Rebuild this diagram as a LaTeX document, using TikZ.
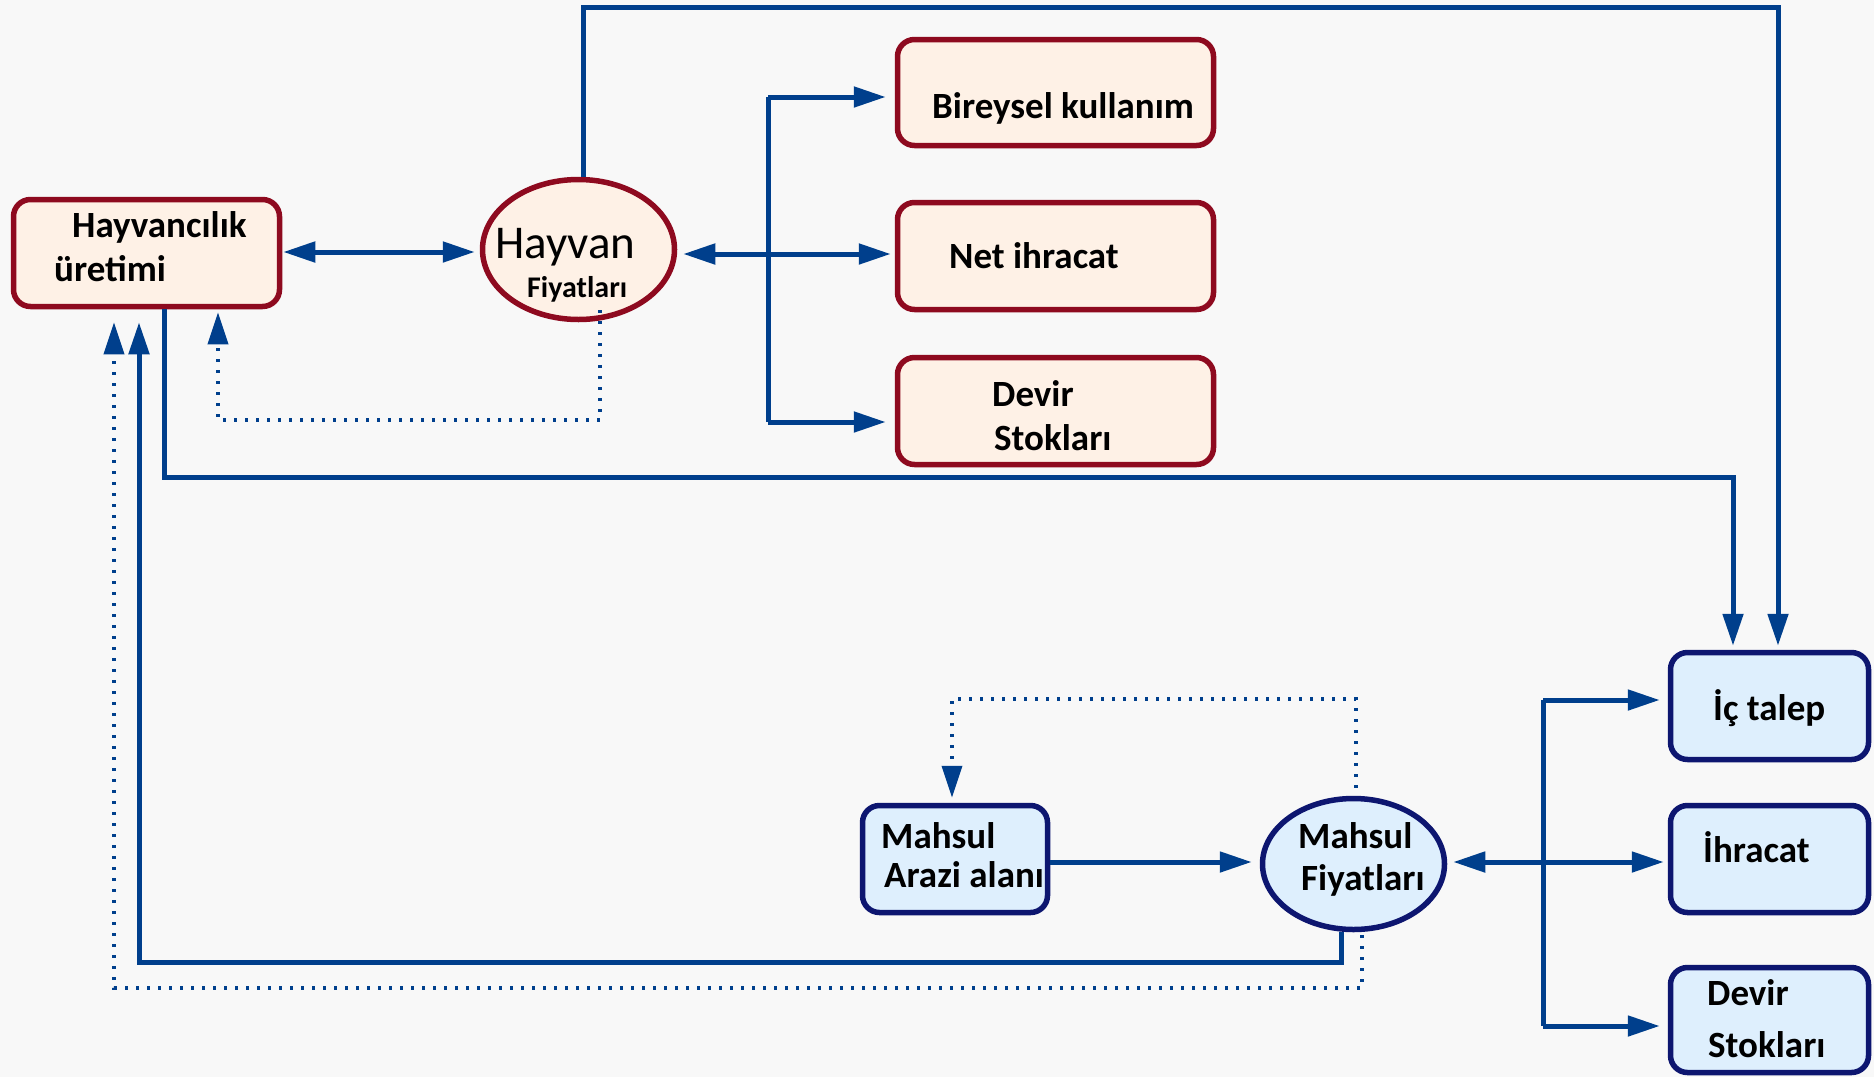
\documentclass[tikz,border=0pt]{standalone}
\usepackage{fontspec}
\setmainfont{Carlito}
\usetikzlibrary{arrows.meta,shapes.geometric,calc}
\definecolor{bg}{HTML}{F8F8F8}
\definecolor{arrblue}{HTML}{003F8C}
\definecolor{redb}{HTML}{8E0A1F}
\definecolor{peach}{HTML}{FEF1E6}
\definecolor{lblue}{HTML}{DEEFFD}
\definecolor{navy}{HTML}{0D1670}
\tikzset{
  redbox/.style={draw=redb,fill=peach,line width=5.5pt,rounded corners=17pt,rectangle,inner sep=0pt},
  redell/.style={draw=redb,fill=peach,line width=5.5pt,ellipse,inner sep=0pt},
  bluebox/.style={draw=navy,fill=lblue,line width=5.5pt,rounded corners=17pt,rectangle,inner sep=0pt},
  blueell/.style={draw=navy,fill=lblue,line width=5.5pt,ellipse,inner sep=0pt},
  tip/.tip={Triangle[length=32pt,width=20pt]},
  arr/.style={draw=arrblue,line width=5pt,-tip},
  arrb/.style={draw=arrblue,line width=5pt,tip-tip},
  plain/.style={draw=arrblue,line width=5pt},
  dotarr/.style={draw=arrblue,line width=3.6pt,dash pattern=on 3pt off 8pt,-tip},
  lbl/.style={font=\fontsize{37}{40}\selectfont\bfseries,anchor=base west,inner sep=0pt},
}
\begin{document}
\begin{tikzpicture}[x=1pt,y=-1pt]
\useasboundingbox (0,0) rectangle (1874,1077);
\fill[bg] (0,0) rectangle (1874,1077);

% nodes
\node[redbox,minimum width=266pt,minimum height=107pt] (hp) at (146.5,253) {};
\node[redell,minimum width=192pt,minimum height=140pt] (hf) at (578.5,249.5) {};
\node[redbox,minimum width=316pt,minimum height=106pt] (bk) at (1055.5,92.5) {};
\node[redbox,minimum width=316pt,minimum height=107pt] (ni) at (1055.5,256) {};
\node[redbox,minimum width=316pt,minimum height=107pt] (ds) at (1055.5,411) {};
\node[bluebox,minimum width=185pt,minimum height=107pt] (ma) at (955,859) {};
\node[blueell,minimum width=182pt,minimum height=131pt] (mf) at (1353.5,864) {};
\node[bluebox,minimum width=198pt,minimum height=107pt] (it) at (1769.5,706) {};
\node[bluebox,minimum width=198pt,minimum height=107pt] (ih) at (1769.5,859) {};
\node[bluebox,minimum width=198pt,minimum height=105pt] (dsb) at (1769.5,1020) {};

% labels
\node[lbl] (t1) at (72,237) {Hayvancılık};
\node[lbl] (t2) at (54,281) {üretimi};
\node[lbl,font=\fontsize{47}{50}\selectfont] (t3) at (495,258) {Hayvan};
\node[lbl,font=\fontsize{30}{34}\selectfont\bfseries] (t4) at (527,297) {Fiyatları};
\node[lbl] (t5) at (932,118) {Bireysel kullanım};
\node[lbl] (t6) at (949,268) {Net ihracat};
\node[lbl] (t7) at (992,406) {Devir};
\node[lbl] (t8) at (994,450) {Stokları};
\node[lbl] (t9) at (881,848) {Mahsul};
\node[lbl] (t10) at (884,887) {Arazi alanı};
\node[lbl] (t11) at (1298,848) {Mahsul};
\node[lbl] (t12) at (1301,890) {Fiyatları};
\node[lbl] (t13) at (1713,720) {İç talep};
\node[lbl] (t14) at (1703,862) {İhracat};
\node[lbl] (t15) at (1707,1005) {Devir};
\node[lbl] (t16) at (1708,1057) {Stokları};

% bend coordinates
\coordinate (ctop) at (1778,7);
\coordinate (cmid) at (1733,477);
\coordinate (cd1) at (218,420);
\coordinate (cs1) at (139,962);
\coordinate (cd2) at (114,988);
\coordinate (cd3) at (952,699);
\coordinate (hy) at (768,254);
\coordinate (ht) at (768,97);
\coordinate (hb) at (768,422);
\coordinate (my) at (1543,862);
\coordinate (mt) at (1543,700);
\coordinate (mb) at (1543,1026);

% connectors top
\draw[arrb,shorten <=1pt,shorten >=5pt] (hp.east |- 0,252) -- (hf.west |- 0,252);
\draw[arr,shorten >=4pt] ([xshift=4.5pt]hf.north) |- (ctop) -| ([xshift=8.5pt]it.north);
\draw[arr,shorten >=4pt] ([xshift=17.5pt]hp.south) |- (cmid) -| ([xshift=-36.5pt]it.north);
\draw[dotarr,shorten >=3pt] ([shift={(21.5pt,12pt)}]hf.south) |- (cd1) -| ([xshift=71.5pt]hp.south);
\draw[arrb,shorten <=6pt,shorten >=4pt] (hy -| hf.east) -- (hy -| ni.west);
\draw[plain] (ht) -- (hb);
\draw[arr,shorten >=9pt] (ht) -- (ht -| bk.west);
\draw[arr,shorten >=9pt] (hb) -- (hb -| ds.west);

% connectors bottom
\draw[arr,shorten >=13pt] ([xshift=-12.5pt]mf.south) |- (cs1) -| ([xshift=-7.5pt]hp.south);
\draw[dotarr,shorten <=3pt,shorten >=13pt] ([xshift=8.5pt]mf.south) |- (cd2) -| ([xshift=-32.5pt]hp.south);
\draw[arr,shorten >=8pt] (ma.east |- my) -- (mf.west |- my);
\draw[dotarr,shorten <=8pt,shorten >=5pt] ([xshift=2.5pt]mf.north) |- (cd3) -| ([xshift=-3pt]ma.north);
\draw[arrb,shorten <=6pt,shorten >=4pt] (mf.east |- my) -- (ih.west |- my);
\draw[plain] (mt) -- (mb);
\draw[arr,shorten >=8pt] (mt) -- (mt -| it.west);
\draw[arr,shorten >=8pt] (mb) -- (mb -| dsb.west);
\end{tikzpicture}
\end{document}
